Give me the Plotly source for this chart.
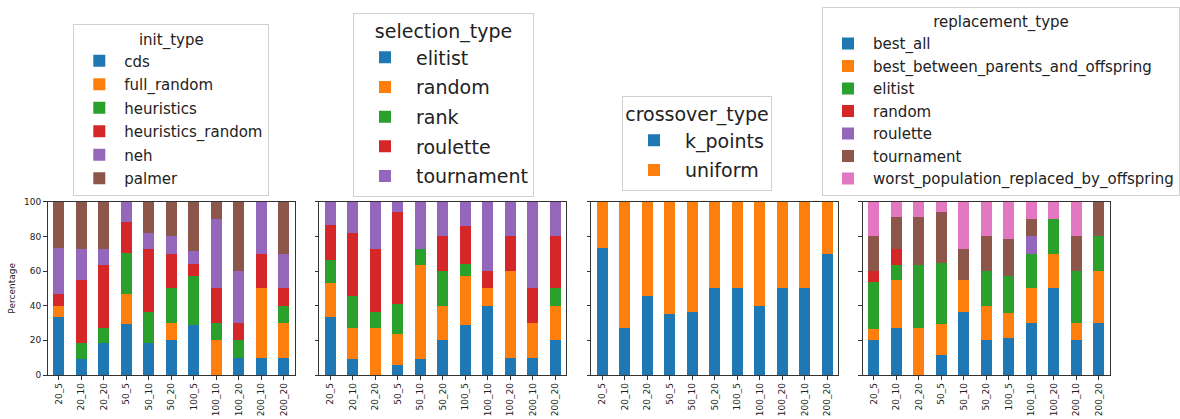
import plotly.graph_objects as go

categories = ["20_5", "20_10", "20_20", "50_5", "50_10", "50_20",
              "100_5", "100_10", "100_20", "200_10", "200_20"]

# init_type
init_cds = [33.3, 9.1, 18.2, 29.4, 18.2, 20, 28.6, 0, 10, 10, 10]
init_full_random = [6.7, 0, 0, 17.6, 0, 10, 0, 20, 0, 40, 20]
init_heuristics = [0, 9.1, 9.1, 23.5, 18.2, 20, 28.6, 10, 10, 0, 10]
init_heuristics_random = [6.7, 36.4, 36.4, 17.6, 36.4, 20, 7.1, 20, 10, 20, 10]
init_neh = [26.7, 18.2, 9.1, 11.8, 9.1, 10, 7.1, 40, 30, 30, 20]
init_palmer = [26.7, 27.3, 27.3, 0, 18.2, 20, 28.6, 10, 40, 0, 30]

# selection_type
sel_elitist = [33.3, 9.1, 0, 5.9, 9.1, 20, 28.6, 40, 10, 10, 20]
sel_random = [20, 18.2, 27.3, 17.6, 54.5, 20, 28.6, 10, 50, 20, 20]
sel_rank = [13.3, 18.2, 9.1, 17.6, 9.1, 20, 7.1, 0, 0, 0, 10]
sel_roulette = [20, 36.4, 36.4, 52.9, 0, 20, 21.4, 10, 20, 20, 30]
sel_tournament = [13.3, 18.2, 27.3, 5.9, 27.3, 20, 14.3, 40, 20, 50, 20]

# crossover_type
cx_k_points = [73.3, 27.3, 45.5, 35.3, 36.4, 50, 50, 40, 50, 50, 70]
cx_uniform = [26.7, 72.7, 54.5, 64.7, 63.6, 50, 50, 60, 50, 50, 30]

# replacement_type
rep_best_all = [20, 27.3, 0, 11.8, 36.4, 20, 21.4, 30, 50, 20, 30]
rep_best_between = [6.7, 27.3, 27.3, 17.6, 18.2, 20, 14.3, 20, 20, 10, 30]
rep_elitist = [26.7, 9.1, 36.4, 35.3, 0, 20, 21.4, 20, 20, 30, 20]
rep_random = [6.7, 9.1, 0, 0, 0, 0, 0, 0, 0, 0, 0]
rep_roulette = [0, 0, 0, 0, 0, 0, 0, 10, 0, 0, 0]
rep_tournament = [20, 18.2, 27.3, 29.4, 18.2, 20, 21.4, 10, 0, 20, 20]
rep_worst = [20, 9.1, 9.1, 5.9, 27.3, 20, 21.4, 10, 10, 20, 0]

COLORS = ["#1f77b4", "#ff7f0e", "#2ca02c", "#d62728", "#9467bd", "#8c564b", "#e377c2"]

panels = [
    ("init_type", [("cds", init_cds), ("full_random", init_full_random),
                   ("heuristics", init_heuristics), ("heuristics_random", init_heuristics_random),
                   ("neh", init_neh), ("palmer", init_palmer)]),
    ("selection_type", [("elitist", sel_elitist), ("random", sel_random), ("rank", sel_rank),
                        ("roulette", sel_roulette), ("tournament", sel_tournament)]),
    ("crossover_type", [("k_points", cx_k_points), ("uniform", cx_uniform)]),
    ("replacement_type", [("best_all", rep_best_all),
                          ("best_between_parents_and_offspring", rep_best_between),
                          ("elitist", rep_elitist), ("random", rep_random),
                          ("roulette", rep_roulette), ("tournament", rep_tournament),
                          ("worst_population_replaced_by_offspring", rep_worst)]),
]

W, H = 1180, 419
FONT = "DejaVu Sans"
lefts = [47.6, 319.0, 591.0, 862.6]
pw = 247.4
top_px, bot_px = 201.7, 375.0

legend_cfg = [
    dict(x=73.3, y=24.0, size=15, gap=1, iw=40),
    dict(x=353.0, y=12.7, size=19, gap=2, iw=52),
    dict(x=622.0, y=95.7, size=19, gap=2, iw=52),
    dict(x=822.0, y=6.7, size=15, gap=0, iw=40),
]

fig = go.Figure()
layout = dict(
    width=W, height=H, margin=dict(l=0, r=0, t=0, b=0),
    paper_bgcolor="white", plot_bgcolor="white",
    barmode="stack", bargap=0.5,
    font=dict(family=FONT, color="#222"),
)

for i, (title, series) in enumerate(panels):
    n = i + 1
    xa = "x" if n == 1 else f"x{n}"
    ya = "y" if n == 1 else f"y{n}"
    lg = "legend" if n == 1 else f"legend{n}"
    for j, (name, vals) in enumerate(series):
        fig.add_trace(go.Bar(
            x=categories, y=vals, name=name, xaxis=xa, yaxis=ya,
            marker=dict(color=COLORS[j], line=dict(width=0)),
            legend=lg, legendgroup=f"{title}_{name}",
        ))
    xkey = "xaxis" if n == 1 else f"xaxis{n}"
    ykey = "yaxis" if n == 1 else f"yaxis{n}"
    layout[xkey] = dict(
        domain=[lefts[i] / W, (lefts[i] + pw) / W], anchor=ya,
        type="category", range=[-0.5, 10.5], tickangle=-90,
        showline=True, linecolor="#333", linewidth=1, mirror=True,
        ticks="outside", ticklen=3.5, tickcolor="#333",
        tickfont=dict(family=FONT, size=9, color="#222"), showgrid=False,
        automargin=False,
    )
    layout[ykey] = dict(
        domain=[1 - bot_px / H, 1 - top_px / H], anchor=xa,
        range=[0, 100], tickvals=[0, 20, 40, 60, 80, 100],
        showline=True, linecolor="#333", linewidth=1, mirror=True,
        ticks="outside", ticklen=3.5, tickcolor="#333",
        tickfont=dict(family=FONT, size=9, color="#222"), showgrid=False,
        zeroline=False, showticklabels=(n == 1), automargin=False,
    )
    if n == 1:
        layout[ykey]["title"] = dict(text="Percentage", font=dict(family=FONT, size=9, color="#222"), standoff=6)
    cfg = legend_cfg[i]
    layout[lg] = dict(
        x=cfg["x"] / W, y=1 - cfg["y"] / H, xanchor="left", yanchor="top",
        bgcolor="rgba(255,255,255,0.8)", bordercolor="#d0d0d0", borderwidth=1,
        font=dict(family=FONT, size=cfg["size"], color="#222"),
        title=dict(text=title, side="top center", font=dict(family=FONT, size=cfg["size"], color="#222")),
        traceorder="grouped", tracegroupgap=cfg["gap"], itemwidth=cfg["iw"],
    )

fig.update_layout(**layout)
fig.write_html("out.html", config={"displayModeBar": False},
               post_script="document.body.style.margin='0';document.body.style.overflow='hidden';")
